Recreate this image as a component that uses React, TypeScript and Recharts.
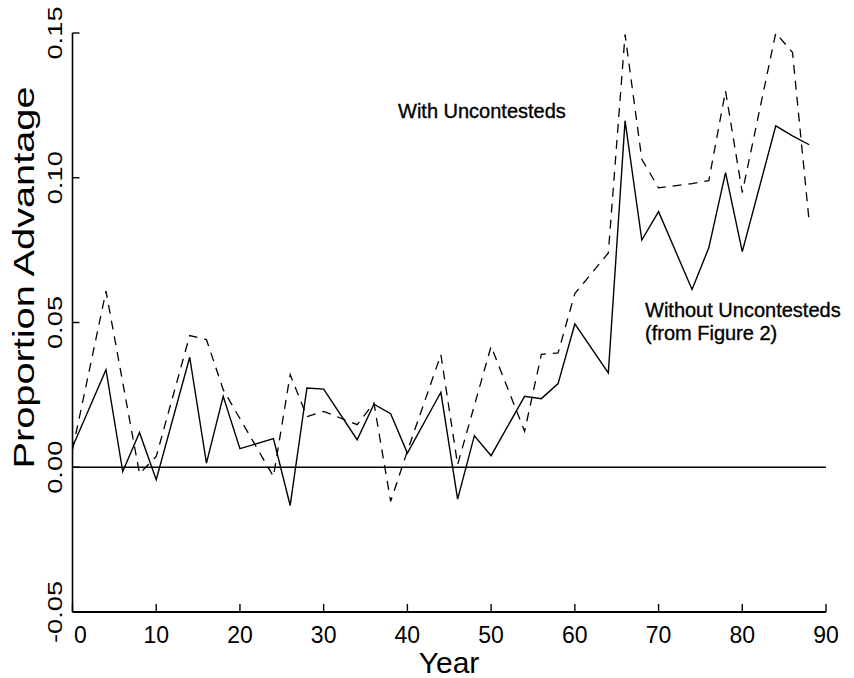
import { LineChart, Line, XAxis, YAxis, ReferenceLine, Customized } from 'recharts'

// election years (solid: without uncontesteds, from Figure 2)
const withoutYears = [0, 4, 6, 8, 10, 14, 16, 18, 20, 24, 26, 28, 30, 34, 36, 38, 40, 44, 46, 48, 50, 54, 56, 58, 60, 64, 66, 68, 70, 74, 76, 78, 80, 84, 86, 88]
const withoutValues = [0.007, 0.0337, -0.0015, 0.012, -0.0043, 0.038, 0.0014, 0.0245, 0.0064, 0.0099, -0.0132, 0.0274, 0.027, 0.0095, 0.0218, 0.0185, 0.0049, 0.0259, -0.011, 0.0109, 0.004, 0.0245, 0.0237, 0.0289, 0.0495, 0.0326, 0.1197, 0.0785, 0.0883, 0.0614, 0.0758, 0.1018, 0.0745, 0.1179, 0.1145, 0.1114]

// dashed: with uncontesteds
const withYears = [0, 4, 8, 10, 14, 16, 18, 24, 26, 28, 30, 34, 36, 38, 40, 44, 46, 50, 54, 56, 58, 60, 62, 64, 66, 68, 70, 74, 76, 78, 80, 84, 86, 88]
const withValues = [0.006, 0.0608, -0.0022, 0.0037, 0.0455, 0.0441, 0.0268, -0.0032, 0.032, 0.0175, 0.0193, 0.0147, 0.0222, -0.0118, 0.0056, 0.0389, 0.0009, 0.0418, 0.0124, 0.039, 0.0395, 0.06, 0.067, 0.074, 0.1495, 0.1064, 0.0965, 0.098, 0.099, 0.13, 0.0949, 0.15, 0.1433, 0.0845]

const xTicks = [0, 10, 20, 30, 40, 50, 60, 70, 80, 90]
const yTicks = [-0.05, 0, 0.05, 0.1, 0.15]

const withoutData = withoutYears.map((year, i) => ({ year, value: withoutValues[i] }))
const withData = withYears.map((year, i) => ({ year, value: withValues[i] }))

const FONT = "'Liberation Sans', Arial, Helvetica, sans-serif"

const XTick = (props: any) => {
  const { x, y, payload, index } = props
  return (
    <g>
      <line x1={x} y1={y} x2={x} y2={y - 8} stroke="#000" strokeWidth={1.4} />
      <text x={x + (index === 0 ? 8 : 0)} y={y + 31} textAnchor="middle" fontSize={23} fontFamily={FONT} fill="#000">
        {payload.value}
      </text>
    </g>
  )
}

const YTick = (props: any) => {
  const { x, y, payload } = props
  const label = payload.value.toFixed(2)
  return (
    <g>
      <line x1={x} y1={y} x2={x + 7} y2={y} stroke="#000" strokeWidth={1.4} />
      <text
        transform={`translate(${x - 10.5},${y}) rotate(-90) scale(1.3,1)`}
        textAnchor="middle"
        fontSize={21}
        fontFamily={FONT}
        fill="#000"
      >
        {label}
      </text>
    </g>
  )
}

const YTitle = () => (
  <text
    transform="translate(33.5,277.5) rotate(-90) scale(1.37,1)"
    textAnchor="middle"
    fontSize={29}
    fontFamily={FONT}
    fill="#000"
  >
    Proportion Advantage
  </text>
)

const XTitle = () => (
  <text x={449} y={673} textAnchor="middle" fontSize={30} fontFamily={FONT} fill="#000">
    Year
  </text>
)

const Notes = () => (
  <g fontFamily={FONT} fontSize={20} fill="#000" stroke="#000" strokeWidth={0.35}>
    <text x={398} y={117.5}>With Uncontesteds</text>
    <text x={645} y={316.5}>Without Uncontesteds</text>
    <text x={645} y={340}>(from Figure 2)</text>
  </g>
)

export default function App() {
  return (
    <div style={{ position: 'absolute', left: 0, top: 0, background: '#fff' }}>
      <LineChart width={854} height={678} margin={{ top: 33, right: 28, bottom: 0, left: 0 }}>
        <XAxis
          type="number"
          dataKey="year"
          domain={[0, 90]}
          ticks={xTicks}
          interval={0}
          height={66}
          tickSize={0}
          tickMargin={0}
          tick={<XTick />}
          axisLine={{ stroke: '#000', strokeWidth: 2 }}
          label={<XTitle />}
        />
        <YAxis
          type="number"
          domain={[-0.05, 0.15]}
          ticks={yTicks}
          interval={0}
          width={72.5}
          tickSize={0}
          tickMargin={0}
          tick={<YTick />}
          axisLine={{ stroke: '#000', strokeWidth: 1.6 }}
          label={<YTitle />}
        />
        <ReferenceLine y={0} stroke="#000" strokeWidth={1.3} />
        <Line
          data={withData}
          dataKey="value"
          type="linear"
          stroke="#000"
          strokeWidth={1.3}
          strokeDasharray="9 7"
          dot={false}
          isAnimationActive={false}
        />
        <Line
          data={withoutData}
          dataKey="value"
          type="linear"
          stroke="#000"
          strokeWidth={1.4}
          dot={false}
          isAnimationActive={false}
        />
        <Customized component={Notes} />
      </LineChart>
    </div>
  )
}
